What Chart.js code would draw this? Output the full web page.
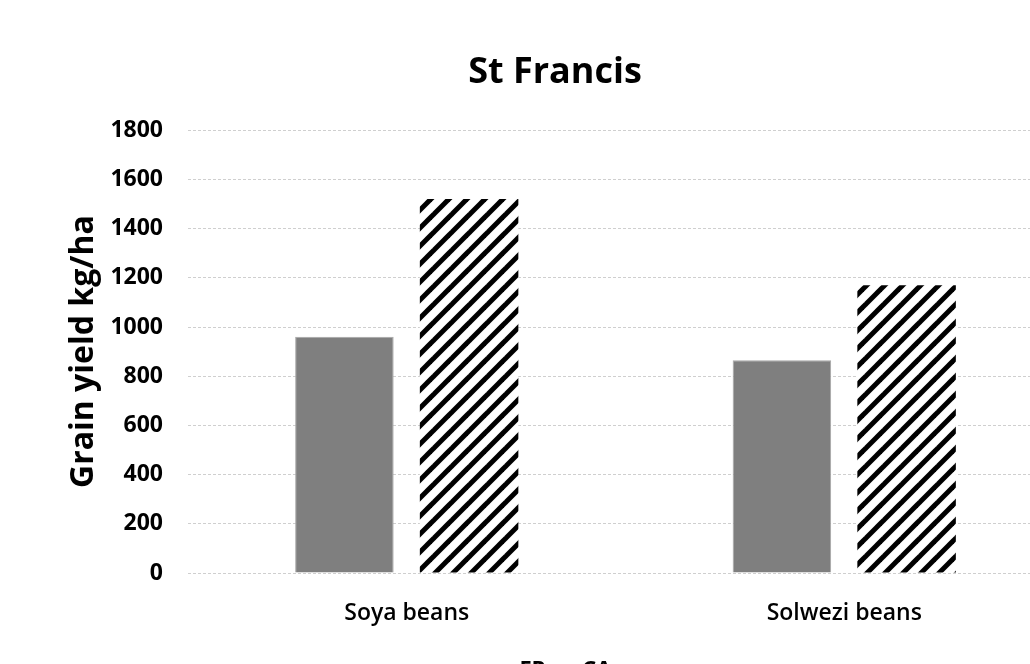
<!DOCTYPE html>
<html>
<head>
<meta charset="utf-8">
<style>
  html, body { margin: 0; padding: 0; background: #ffffff; overflow: hidden; }
  #wrap { position: absolute; left: 0; top: 0; width: 1110px; height: 691px; }
</style>
<script src="https://cdn.jsdelivr.net/npm/chart.js@4/dist/chart.umd.min.js"></script>
</head>
<body>
<div id="wrap"><canvas id="chart" width="1110" height="691"></canvas></div>
<script>
// Grain yield by crop and practice
const categories = ['Soya beans', 'Solwezi beans'];
const seriesNames = ['FP', 'CA'];
const fpYield = [960, 865];
const caYield = [1520, 1170];
const yTicks = [0, 200, 400, 600, 800, 1000, 1200, 1400, 1600, 1800];

const FONT = '"Open Sans", Lato, sans-serif';

// diagonal black-on-white stripes for the CA bars
function makeHatch() {
  const s = 18;
  const c = document.createElement('canvas');
  c.width = s; c.height = s;
  const g = c.getContext('2d');
  g.fillStyle = '#ffffff';
  g.fillRect(0, 0, s, s);
  g.strokeStyle = '#000000';
  g.lineWidth = 5;
  g.lineCap = 'square';
  for (let k = -1; k <= 1; k++) {
    g.beginPath();
    g.moveTo(k * s, s);
    g.lineTo(k * s + s, 0);
    g.stroke();
  }
  return document.getElementById('chart').getContext('2d').createPattern(c, 'repeat');
}
const hatch = makeHatch();

new Chart(document.getElementById('chart'), {
  type: 'bar',
  data: {
    labels: categories,
    datasets: [
      {
        label: seriesNames[0],
        data: fpYield,
        backgroundColor: '#7f7f7f',
        borderColor: '#a6a6a6',
        borderWidth: 1
      },
      {
        label: seriesNames[1],
        data: caYield,
        backgroundColor: hatch,
        borderWidth: 0
      }
    ]
  },
  options: {
    responsive: false,
    animation: false,
    devicePixelRatio: 1,
    layout: { padding: { left: 47, right: 47, top: 51, bottom: 0 } },
    datasets: {
      bar: { categoryPercentage: 0.57, barPercentage: 0.79 }
    },
    plugins: {
      title: {
        display: true,
        text: 'St Francis',
        color: '#000000',
        font: { family: FONT, size: 36, weight: 'bold' },
        padding: { top: 0, bottom: 36 }
      },
      legend: {
        position: 'bottom',
        labels: {
          color: '#000000',
          font: { family: FONT, size: 22, weight: 'bold' },
          boxWidth: 10,
          boxHeight: 10,
          padding: 16
        }
      },
      tooltip: { enabled: false }
    },
    scales: {
      x: {
        grid: { display: false },
        border: { display: false },
        ticks: {
          color: '#000000',
          font: { family: FONT, size: 23, weight: '600' },
          padding: 19
        },
        afterFit: (scale) => { scale.height = 70; }
      },
      y: {
        min: 0,
        max: 1800,
        afterBuildTicks: (scale) => { scale.ticks = yTicks.map(v => ({ value: v })); },
        afterFit: (scale) => { scale.width = 141; },
        grid: {
          color: '#cfcfcf',
          lineWidth: 1,
          drawTicks: false
        },
        border: { display: false, dash: [3, 2] },
        ticks: {
          color: '#000000',
          font: { family: FONT, size: 23, weight: 'bold' },
          padding: 25,
          callback: (v) => String(v)
        },
        title: {
          display: true,
          text: 'Grain yield kg/ha',
          color: '#000000',
          font: { family: FONT, size: 32, weight: 'bold' },
          padding: { top: 18, bottom: 0 }
        }
      }
    }
  }
});
</script>
</body>
</html>
